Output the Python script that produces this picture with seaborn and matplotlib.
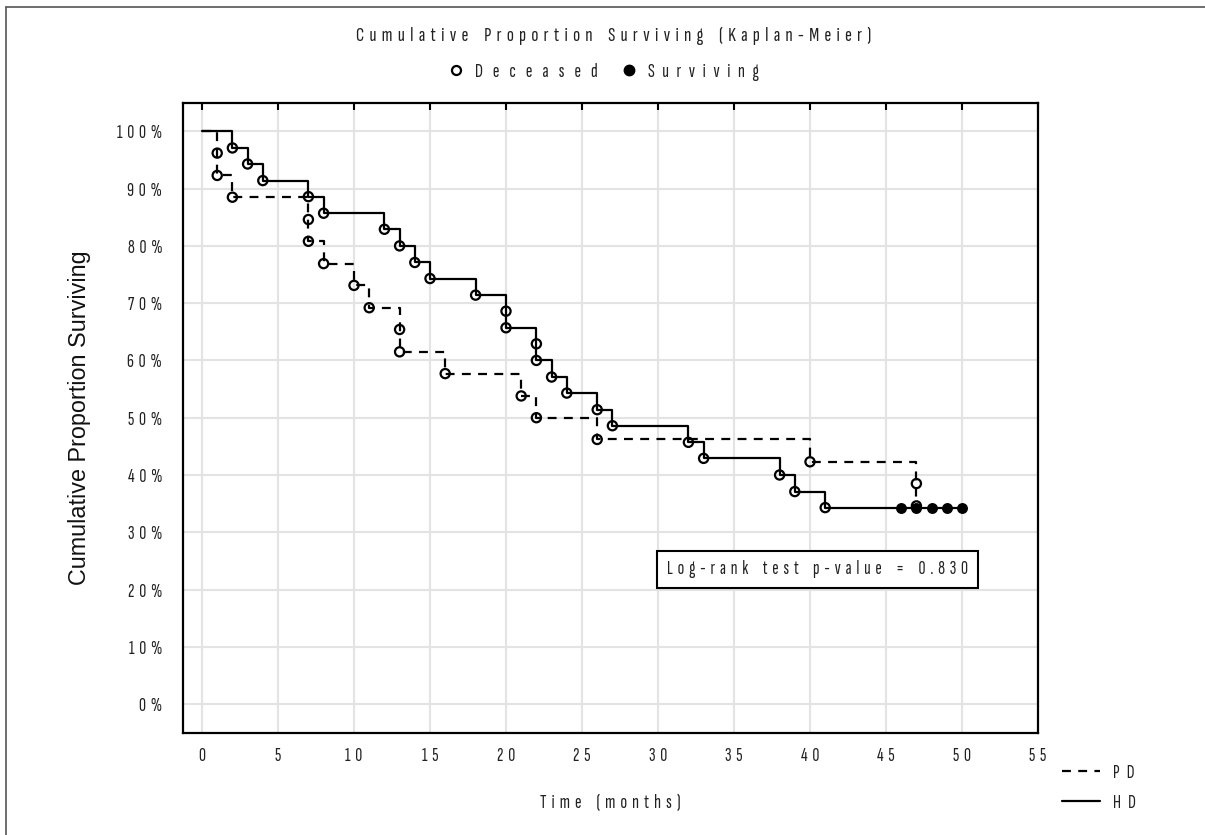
import seaborn as sns
import matplotlib.pyplot as plt
import pandas as pd
from matplotlib.lines import Line2D

sns.set_theme(style="whitegrid")
NARROW = ["Sofia Sans Extra Condensed", "Liberation Sans", "DejaVu Sans"]
plt.rcParams["font.family"] = NARROW

# HD group (solid line): death times in months and KM survival in %
hd_death_time = [2, 3, 4, 7, 8, 12, 13, 14, 15, 18, 20, 20, 22, 22, 23, 24, 26, 27, 32, 33, 38, 39, 41]
hd_death_surv = [97.1, 94.3, 91.4, 88.6, 85.7, 82.9, 80.0, 77.1, 74.3, 71.4, 68.6, 65.7,
                 62.9, 60.0, 57.1, 54.3, 51.4, 48.6, 45.7, 42.9, 40.0, 37.1, 34.3]
hd_end_time = 50
# HD patients still alive (censored)
hd_cens_time = [46, 47, 48, 49, 50]
hd_cens_surv = [34.3, 34.3, 34.3, 34.3, 34.3]

# PD group (dashed line)
pd_death_time = [1, 1, 2, 7, 7, 8, 10, 11, 13, 13, 16, 21, 22, 26, 40, 47, 47]
pd_death_surv = [96.2, 92.3, 88.5, 84.6, 80.8, 76.9, 73.1, 69.2, 65.4, 61.5, 57.7,
                 53.8, 50.0, 46.2, 42.3, 38.5, 34.6]
pd_end_time = 47

x_ticks = [0, 5, 10, 15, 20, 25, 30, 35, 40, 45, 50, 55]
y_ticks = [0, 10, 20, 30, 40, 50, 60, 70, 80, 90, 100]
p_value = "0.830"

DASH = (0, (4, 3.3))
W, H = 1205, 835


def spaced(s, gap=" "):
    # the original software draws letters spread apart
    return (gap * 3).join(gap.join(w) for w in s.split())


def curve(times, surv, end):
    return pd.DataFrame({
        "time": [0] + times + [end],
        "surv": [100] + surv + [surv[-1]],
    })


fig = plt.figure(figsize=(W / 100, H / 100), dpi=100)
ax = fig.add_axes([183 / W, 1 - 732.7 / H, (1038 - 183) / W, (732.7 - 102.7) / H])

sns.lineplot(data=curve(hd_death_time, hd_death_surv, hd_end_time), x="time", y="surv",
             estimator=None, sort=False, drawstyle="steps-post", color="black",
             lw=1.6, ax=ax)
sns.lineplot(data=curve(pd_death_time, pd_death_surv, pd_end_time), x="time", y="surv",
             estimator=None, sort=False, drawstyle="steps-post", color="black",
             lw=1.6, linestyle=DASH, ax=ax)

deaths = pd.DataFrame({
    "time": hd_death_time + pd_death_time,
    "surv": hd_death_surv + pd_death_surv,
})
sns.scatterplot(data=deaths, x="time", y="surv", marker="o", s=44,
                facecolor="none", edgecolor="black", linewidth=1.6, ax=ax, zorder=3)
sns.scatterplot(x=hd_cens_time, y=hd_cens_surv, marker="o", s=62,
                color="black", linewidth=0, ax=ax, zorder=4)

ax.set_xlim(-1.25, 55)
ax.set_ylim(-5, 105)
ax.set_xticks(x_ticks, labels=[spaced(str(v), "  ") for v in x_ticks])
ax.set_yticks(y_ticks, labels=[spaced(f"{v}%", "  ") for v in y_ticks])
ax.grid(True, color="#e3e3e3", lw=1.5)
ax.tick_params(axis="both", direction="in", length=5, width=1.5, colors="black",
               labelsize=14, labelcolor="#222222")
ax.tick_params(axis="x", pad=10, top=True)
ax.tick_params(axis="y", pad=15)
for sp in ax.spines.values():
    sp.set_color("black")
    sp.set_linewidth(1.6)

ax.set_xlabel(spaced("Time (months)", "  "), fontsize=14.4, color="#222222")
ax.xaxis.label.set_va("center")
ax.xaxis.set_label_coords(0.5, (732.7 - 803) / 630)
ax.set_ylabel("Cumulative Proportion Surviving", fontsize=16.8, color="#111111",
              family="Liberation Sans")
ax.yaxis.label.set_va("center")
ax.yaxis.set_label_coords((80 - 183) / 855, 0.5)

ax.text(40.5, 23.5, spaced("Log-rank test p-value = " + p_value, "  "), ha="center",
        va="center", fontsize=14, color="#222222",
        bbox=dict(boxstyle="square,pad=0.5", fc="white", ec="black", lw=1.5), zorder=5)

fig.text(614 / W, 1 - 36 / H, spaced("Cumulative Proportion Surviving (Kaplan-Meier)", "  "),
         ha="center", va="center", fontsize=15, color="#222222")

top_handles = [
    Line2D([], [], marker="o", ls="none", mfc="none", mec="black", mew=1.6, ms=6.5),
    Line2D([], [], marker="o", ls="none", mfc="black", mec="black", ms=7.5),
]
fig.legend(top_handles, [spaced("Deceased", "    "), spaced("Surviving", "   ")], ncol=2,
           loc="center", bbox_to_anchor=(603 / W, 1 - 72 / H), frameon=False, fontsize=14.4,
           handlelength=0.9, handletextpad=0.5, columnspacing=1.1, labelcolor="#222222")

side_handles = [
    Line2D([], [], color="black", lw=1.6, ls=DASH),
    Line2D([], [], color="black", lw=1.6),
]
fig.legend(side_handles, [spaced("PD", "   "), spaced("HD", "   ")], loc="upper left",
           bbox_to_anchor=(1062 / W, 1 - 764 / H), frameon=False, fontsize=14,
           borderpad=0, borderaxespad=0, handlelength=1.96, handletextpad=0.67,
           labelspacing=0.6, labelcolor="#222222")

# outer frame of the exported figure (top and left edges only)
fig.add_artist(Line2D([6 / W, 6 / W], [0, 1 - 7 / H], transform=fig.transFigure,
                      color="#555555", lw=1.2))
fig.add_artist(Line2D([6 / W, 1], [1 - 7 / H, 1 - 7 / H], transform=fig.transFigure,
                      color="#555555", lw=1.2))

fig.savefig("out.png", dpi=100, facecolor="white")
